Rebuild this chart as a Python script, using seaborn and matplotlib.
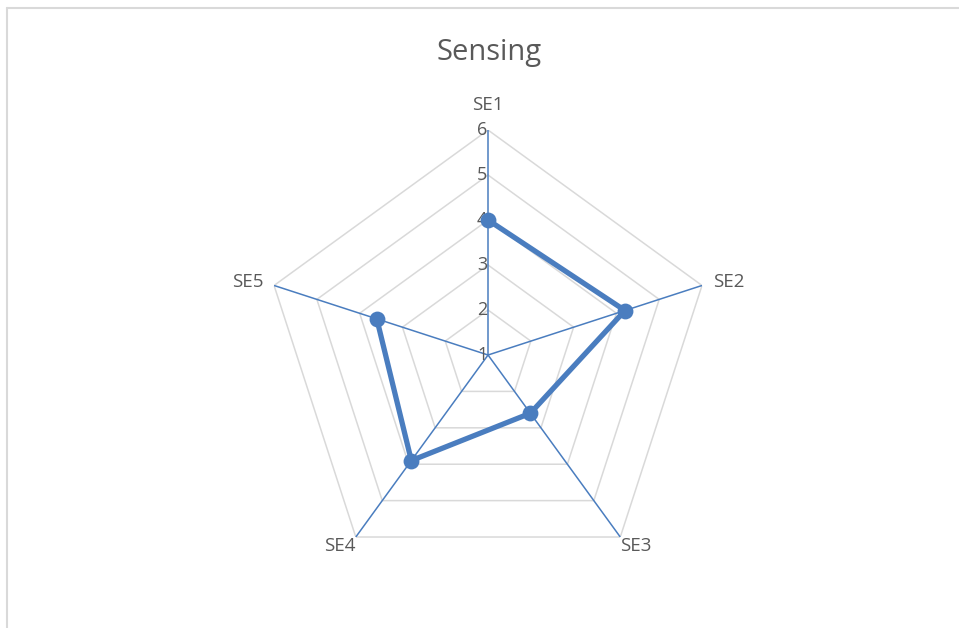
import numpy as np
import pandas as pd
import matplotlib
matplotlib.use("Agg")
import matplotlib.pyplot as plt
from matplotlib.lines import Line2D
import seaborn as sns

# Survey item averages for the "Sensing" dimension
categories = ["SE1", "SE2", "SE3", "SE4", "SE5"]
scores = [4.0, 4.2, 2.6, 3.9, 3.6]
ring_levels = [1, 2, 3, 4, 5, 6]
tick_labels = ["1", "2", "3", "4", "5", "6"]

sns.set_theme(style="white")
plt.rcParams["font.family"] = ["Open Sans", "DejaVu Sans"]

BLUE = "#4a7dbf"
GRID = "#d9d9d9"
TEXT = "#595959"

fig = plt.figure(figsize=(9.59, 6.28), dpi=100)
fig.patch.set_facecolor("white")

# Chart frame (top and left edges)
fig.add_artist(Line2D([0.0075, 1.0], [0.9865, 0.9865], transform=fig.transFigure,
                      color="#d9d9d9", lw=1.5))
fig.add_artist(Line2D([0.0075, 0.0075], [0.0, 0.9865], transform=fig.transFigure,
                      color="#d9d9d9", lw=1.5))

fig.text(0.510, 0.916, "Sensing", ha="center", va="center", fontsize=21,
         color=TEXT)

ax = fig.add_axes([0.2743, 0.0764, 0.4692, 0.7166], projection="polar")
ax.set_theta_offset(np.pi / 2)
ax.set_theta_direction(-1)
ax.set_ylim(ring_levels[0], ring_levels[-1])
ax.grid(False)
ax.spines["polar"].set_visible(False)
ax.set_xticks([])
ax.set_yticks([])
ax.set_facecolor("none")

n = len(categories)
angles = np.linspace(0, 2 * np.pi, n, endpoint=False)
closed_angles = np.append(angles, angles[0])

# Pentagon grid rings
for lvl in ring_levels[1:]:
    ax.plot(closed_angles, [lvl] * (n + 1), color=GRID, lw=1.1, zorder=1)

# Spokes
for a in angles:
    ax.plot([a, a], [ring_levels[0], ring_levels[-1]], color=BLUE, lw=1.1, zorder=2)

# Data series
df = pd.DataFrame({
    "angle": closed_angles,
    "score": scores + [scores[0]],
})
sns.lineplot(data=df, x="angle", y="score", ax=ax, sort=False, color=BLUE,
             lw=3.8, zorder=3, legend=False)
sns.scatterplot(data=df.iloc[:-1], x="angle", y="score", ax=ax, color=BLUE,
                s=130, edgecolor=BLUE, linewidth=0, zorder=4, legend=False)
ax.set_xlabel("")
ax.set_ylabel("")

# Value labels along the first spoke
for lvl, lab in zip(ring_levels, tick_labels):
    ax.annotate(lab, xy=(0, lvl), xytext=(-0.5, 0), textcoords="offset points",
                ha="right", va="center", fontsize=13, color=TEXT,
                annotation_clip=False)

# Category labels
for a, cat in zip(angles, categories):
    s = np.sin(a)
    c = np.cos(a)
    ha = "left" if s > 0.1 else ("right" if s < -0.1 else "center")
    if c > 0.9:
        va, r = "center", 6.55
    elif c > 0:
        va, r = "center", 6.25
    else:
        va, r = "top", 6.0
    ax.text(a, r, cat, ha=ha, va=va, fontsize=13.5, color=TEXT, clip_on=False)

fig.savefig("out.png", dpi=100, facecolor="white")
